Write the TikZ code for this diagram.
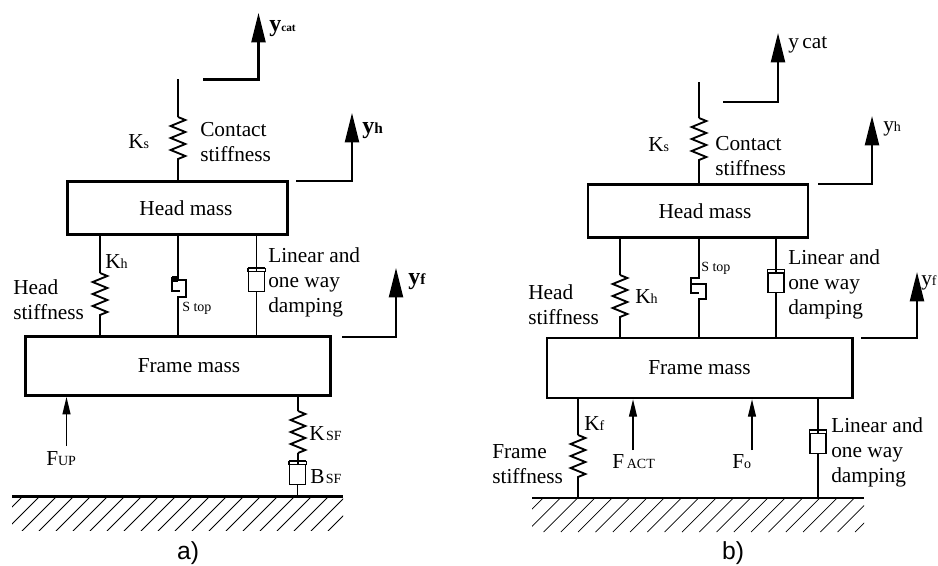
\documentclass[tikz,border=0pt]{standalone}
\usepackage{fontspec}
\setmainfont{Liberation Serif}
\newfontfamily\capfont{Liberation Sans}
\usetikzlibrary{arrows.meta, decorations.pathmorphing}
\newcommand{\low}[1]{{\fontsize{10.5}{12}\selectfont #1}}
\newcommand{\pistoncap}[1]{
  \draw[thinwire] ([yshift=2.5pt]#1.north west) -- (#1.north west) -- (#1.north east) -- ([yshift=2.5pt]#1.north east);
  \draw[thinwire] ([yshift=2.5pt]#1.north west) -- ([yshift=2.5pt]#1.north east);
}
\tikzset{
  x=0.75pt, y=-0.75pt,
  wire/.style={line width=1.6pt}, % the thick legs
  thinwire/.style={line width=0.9pt}, % the damper legs
  massbox/.style={rectangle, draw, line width=2pt, inner sep=0pt, font=\fontsize{16}{19}\selectfont},
  damper/.style={rectangle, draw, line width=0.9pt, inner sep=0pt, minimum width=12pt, minimum height=14.5pt},
  spring/.style={line width=1.4pt, decorate, decoration={zigzag, segment length=9pt, amplitude=5.5pt}},
  txt/.style={inner sep=0pt, anchor=base west, font=\fontsize{16}{19}\selectfont},
  para/.style={inner sep=0pt, anchor=west, align=left, font=\fontsize{16}{18.75}\selectfont},
  boldy/.style={inner sep=0pt, anchor=base west, font=\fontsize{18}{20}\selectfont\bfseries},
  bigarrow/.style={line width=1.6pt, -{Triangle[length=22pt, width=10.5pt]}},
  force/.style={line width=0.9pt, -{Triangle[length=13pt, width=6pt]}},
  hatchline/.style={line width=0.55pt},
  groundline/.style={line width=2.2pt},
  panelname/.style={inner sep=0pt, anchor=base, font=\capfont\fontsize{18.5}{20}\selectfont}
}
\begin{document}
\begin{tikzpicture}
  \useasboundingbox (0,0) rectangle (938,565);

  % panel a
  \node[massbox, minimum width=165pt, minimum height=40pt] (headA) at (177.5,208) {\hspace{12.75pt}Head mass};
  \node[massbox, minimum width=229pt, minimum height=44.5pt] (frameA) at (178,366) {\hspace{16.5pt}Frame mass};
  \coordinate (gndAl) at (12,496.5);
  \coordinate (gndAr) at (343,496.5);
  \draw[groundline] (gndAl) -- (gndAr);
  \begin{scope}
    \clip (12,497) rectangle (343,530);
    \foreach \hx in {0,...,20}
      \draw[hatchline] ({-12+17*\hx},531) -- ++(34,-34);
  \end{scope}

  % contact spring and outputs
  \coordinate (topA) at (178,79);
  \coordinate (ksA1) at (178,117);
  \coordinate (ksA2) at (178,160);
  \draw[wire] (topA) -- (ksA1) (ksA2) -- (headA.north -| ksA2);
  \draw[spring] (ksA1) -- (ksA2);
  \coordinate (ycatA0) at (203,79.5);
  \coordinate (ycatA) at (258.5,13);
  \draw[bigarrow] (ycatA0) -| (ycatA);
  \coordinate (yhA0) at (296,181);
  \coordinate (yhA) at (352,113);
  \draw[bigarrow] (yhA0) -| (yhA);
  \coordinate (yfA0) at (342,337);
  \coordinate (yfA) at (396,268);
  \draw[bigarrow] (yfA0) -| (yfA);

  % head to frame
  \coordinate (khA1) at (100,273);
  \coordinate (khA2) at (100,316);
  \draw[wire] (headA.south -| khA1) -- (khA1) (khA2) -- (frameA.north -| khA2);
  \draw[spring] (khA1) -- (khA2);
  \coordinate (stopA) at (178,278);
  \draw[wire] (headA.south -| stopA) -- (stopA) -- ++(-6,0) -- ++(0,13) -- ++(8,0);
  \fill (172,276) rectangle (178,282);
  \coordinate (stopA2) at (178,297);
  \draw[wire] (frameA.north -| stopA2) -- (stopA2) -- ++(8,0) -- ++(0,-17) -- ++(-14,0);
  \node[damper] (dampA) at (256.5,281.5) {};
  \pistoncap{dampA}
  \draw[thinwire] (headA.south -| dampA) -- (dampA.north);
  \draw[thinwire] (dampA.south) -- (frameA.north -| dampA);

  % frame to ground
  \coordinate (fupA0) at (66.5,446);
  \draw[force] (fupA0) -- (frameA.south -| fupA0);
  \coordinate (ksfA1) at (298,411);
  \coordinate (ksfA2) at (298,453);
  \draw[wire] (frameA.south -| ksfA1) -- (ksfA1) (ksfA2) -- (298,465);
  \draw[spring] (ksfA1) -- (ksfA2);
  \node[damper] (bsfA) at (297.5,474.5) {};
  \pistoncap{bsfA}
  \draw[thinwire] (bsfA.south) -- (gndAl -| bsfA);

  % labels a
  \node[boldy] (ycatAt) at (269,31) {y\fontsize{8.5}{10}\selectfont cat};
  \node[boldy] (yhAt) at (362,133) {y\fontsize{11.5}{12}\selectfont h};
  \node[boldy] (yfAt) at (408,284) {y\fontsize{11.5}{12}\selectfont f};
  \node[txt] (ksAt) at (128,148) {K\low{s}};
  \node[para] (contactA) at (200,142) {Contact\\stiffness};
  \node[txt] (khAt) at (105,268) {K\low{h}};
  \node[para] (headstiffA) at (13,300) {Head\\stiffness};
  \node[txt] (stopAt) at (182,311) {\low{S top}};
  \node[para] (lineardampA) at (268,282) {Linear and\\one way\\damping};
  \node[txt] (fupAt) at (46,465) {F\low{UP}};
  \node[txt] (ksfAt) at (309,440) {K\hspace{1pt}\low{SF}};
  \node[txt] (bsfAt) at (310,483) {B\hspace{1pt}\low{SF}};
  \node[panelname] (nameA) at (188,559) {a)};

  % panel b
  \node[massbox, minimum width=165pt, minimum height=40pt] (headB) at (698,211) {\hspace{10.5pt}Head mass};
  \node[massbox, minimum width=229pt, minimum height=45pt] (frameB) at (699.5,368) {Frame mass};
  \coordinate (gndBl) at (532,498);
  \coordinate (gndBr) at (864,498);
  \draw[groundline] (gndBl) -- (gndBr);
  \begin{scope}
    \clip (532,498.5) rectangle (864,532);
    \foreach \hx in {0,...,20}
      \draw[hatchline] ({509+17.3*\hx},532) -- ++(34,-34);
  \end{scope}

  % contact spring and outputs
  \coordinate (topB) at (699,82);
  \coordinate (ksB1) at (699,118);
  \coordinate (ksB2) at (699,163);
  \draw[wire] (topB) -- (ksB1) (ksB2) -- (headB.north -| ksB2);
  \draw[spring] (ksB1) -- (ksB2);
  \coordinate (ycatB0) at (723,102);
  \coordinate (ycatB) at (778,33);
  \draw[bigarrow] (ycatB0) -| (ycatB);
  \coordinate (yhB0) at (818,184);
  \coordinate (yhB) at (872,116);
  \draw[bigarrow] (yhB0) -| (yhB);
  \coordinate (yfB0) at (861,338);
  \coordinate (yfB) at (917,272);
  \draw[bigarrow] (yfB0) -| (yfB);

  % head to frame
  \coordinate (khB1) at (620,275);
  \coordinate (khB2) at (620,318);
  \draw[wire] (headB.south -| khB1) -- (khB1) (khB2) -- (frameB.north -| khB2);
  \draw[spring] (khB1) -- (khB2);
  \coordinate (stopB) at (699,278);
  \draw[wire] (headB.south -| stopB) -- (stopB) -- ++(-8,0) -- ++(0,15) -- ++(8,0);
  \coordinate (stopB2) at (699,299);
  \draw[wire] (frameB.north -| stopB2) -- (stopB2) -- ++(7,0) -- ++(0,-15) -- ++(-15,0);
  \node[damper] (dampB) at (776,283) {};
  \pistoncap{dampB}
  \draw[thinwire] (headB.south -| dampB) -- (dampB.north);
  \draw[thinwire] (dampB.south) -- (frameB.north -| dampB);

  % frame to ground
  \coordinate (kfB1) at (578,435);
  \coordinate (kfB2) at (578,478);
  \draw[wire] (frameB.south -| kfB1) -- (kfB1) (kfB2) -- (gndBl -| kfB2);
  \draw[spring] (kfB1) -- (kfB2);
  \coordinate (factB0) at (633,450);
  \draw[force] (factB0) -- (frameB.south -| factB0);
  \coordinate (foB0) at (752,450);
  \draw[force] (foB0) -- (frameB.south -| foB0);
  \node[damper] (dampB2) at (818,443.5) {};
  \pistoncap{dampB2}
  \draw[thinwire] (frameB.south -| dampB2) -- (dampB2.north);
  \draw[thinwire] (dampB2.south) -- (gndBl -| dampB2);

  % labels b
  \node[txt] (ycatBt) at (788,48) {y\,cat};
  \node[txt] (yhBt) at (883,131) {y\low{h}};
  \node[txt] (yfBt) at (921,285) {y\low{f}};
  \node[txt] (ksBt) at (648,151) {K\low{s}};
  \node[para] (contactB) at (715,156) {Contact\\stiffness};
  \node[txt] (khBt) at (635,303) {K\low{h}};
  \node[para] (headstiffB) at (528,305) {Head\\stiffness};
  \node[txt] (stopBt) at (701,271) {\low{S top}};
  \node[para] (lineardampB) at (788,284) {Linear and\\one way\\damping};
  \node[txt] (kfBt) at (584,430) {K\low{f}};
  \node[para] (framestiffB) at (492,464) {Frame\\stiffness};
  \node[txt] (factBt) at (612,468) {F\hspace{2pt}\low{ACT}};
  \node[txt] (foBt) at (732,468) {F\low{o}};
  \node[para] (lineardampC) at (831,452) {Linear and\\one way\\damping};
  \node[panelname] (nameB) at (733,559) {b)};
\end{tikzpicture}
\end{document}
